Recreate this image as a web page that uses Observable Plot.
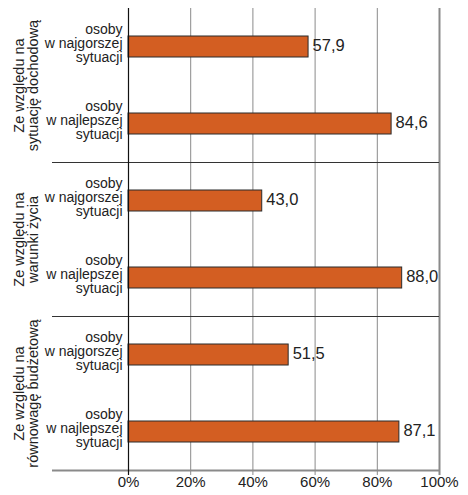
<!DOCTYPE html>
<html><head><meta charset="utf-8">
<script src="https://cdn.jsdelivr.net/npm/d3@7"></script>
<script src="https://cdn.jsdelivr.net/npm/@observablehq/plot@0.6"></script>
<style>body{margin:0;background:#fff}</style>
</head><body><div id="chart"></div>
<script>
const groups = ["Ze względu na\nsytuację dochodową", "Ze względu na\nwarunki życia", "Ze względu na\nrównowagę budżetową"];
const categories = ["osoby\nw najgorszej\nsytuacji", "osoby\nw najlepszej\nsytuacji"];
const values = [57.9, 84.6, 43.0, 88.0, 51.5, 87.1];
const xTicks = [0, 20, 40, 60, 80, 100];

const data = values.map((v, i) => ({
  group: groups[Math.floor(i / 2)],
  cat: categories[i % 2],
  key: "k" + i,
  value: v
}));
const groupFirst = data.filter((d, i) => i % 2 === 0);
const groupLast = data.filter((d, i) => i % 2 === 1);

const chart = Plot.plot({
  width: 468, height: 495,
  marginLeft: 128, marginRight: 29, marginTop: 8, marginBottom: 25,
  style: {fontFamily: "'Liberation Sans', Arial, sans-serif", fontSize: "15px", color: "#222", background: "#fff"},
  x: {domain: [0, 100], axis: null},
  y: {domain: data.map(d => d.key), axis: null, paddingInner: 0.73, paddingOuter: 0.365},
  marks: [
    Plot.ruleX(xTicks.slice(1, -1), {stroke: "#8a8a8a", strokeWidth: 1, insetBottom: -5}),
    Plot.ruleX(xTicks.slice(-1), {stroke: "#8a8a8a", strokeWidth: 2, insetBottom: -5}),
    Plot.ruleY(groupLast.slice(0, 2), {y: "key", dy: 38.5, insetLeft: -76, stroke: "#333", strokeWidth: 1}),
    Plot.ruleY(groupLast.slice(2), {y: "key", dy: 38.5, insetLeft: -76, stroke: "#8a8a8a", strokeWidth: 2}),
    Plot.barX(data, {x: "value", y: "key", fill: "#d35e22", stroke: "#2b2b2b", strokeWidth: 1}),
    Plot.ruleX([0], {stroke: "#111", strokeWidth: 1.2, insetBottom: -5}),
    Plot.text(data, {x: "value", y: "key", text: d => d.value.toFixed(1).replace(".", ","), textAnchor: "start", dx: 4, dy: -1, fontSize: 16.5, fill: "#222"}),
    Plot.text(data, {x: 0, y: "key", text: "cat", textAnchor: "end", dx: -6, dy: -3, fontSize: 14, lineHeight: 1, fill: "#222"}),
    Plot.text(groupFirst, {x: 0, y: "key", text: "group", rotate: -90, dx: -102, dy: 38.5, fontSize: 14.5, lineHeight: 1, fill: "#222"}),
    Plot.text(xTicks, {x: d => d, frameAnchor: "bottom", dy: 16, text: d => d + "%", fontSize: 15, fill: "#222"})
  ]
});
document.getElementById("chart").appendChild(chart);
</script>
</body></html>
